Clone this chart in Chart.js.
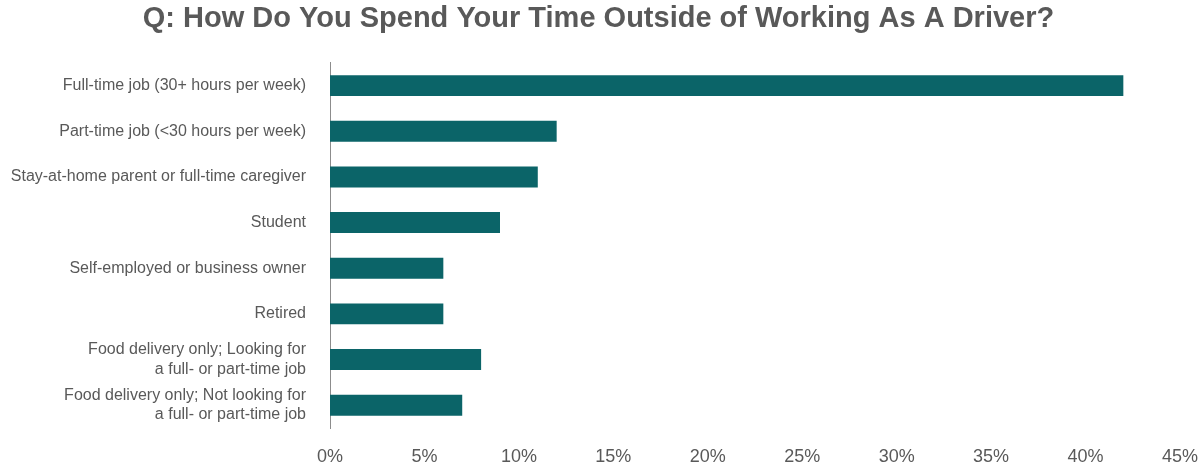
<!DOCTYPE html>
<html>
<head>
<meta charset="utf-8">
<script src="https://cdn.jsdelivr.net/npm/chart.js@4.4.1/dist/chart.umd.min.js"></script>
<style>
  html, body { margin: 0; padding: 0; background: #fff; }
  #wrap { width: 1199px; height: 469px; }
</style>
</head>
<body>
<div id="wrap"><canvas id="chart"></canvas></div>
<script>
// survey answers, top to bottom
const categories = [
    'Full-time job (30+ hours per week)',
    'Part-time job (<30 hours per week)',
    'Stay-at-home parent or full-time caregiver',
    'Student',
    'Self-employed or business owner',
    'Retired',
    ['Food delivery only; Looking for', 'a full- or part-time job'],
    ['Food delivery only; Not looking for', 'a full- or part-time job']
];
const shares = [42, 12, 11, 9, 6, 6, 8, 7];
const xTicks = [0, 5, 10, 15, 20, 25, 30, 35, 40, 45];

const textGray = '#595959';

new Chart(document.getElementById('chart'), {
    type: 'bar',
    data: {
        labels: categories,
        datasets: [{
            data: shares,
            backgroundColor: '#0b6468',
            barPercentage: 0.46,
            categoryPercentage: 1.0
        }]
    },
    options: {
        indexAxis: 'y',
        responsive: true,
        maintainAspectRatio: false,
        animation: false,
        layout: { padding: { left: 0, right: 2, top: 0, bottom: 1 } },
        plugins: {
            legend: { display: false },
            tooltip: { enabled: false },
            title: {
                display: true,
                text: 'Q: How Do You Spend Your Time Outside of Working As A Driver?',
                color: textGray,
                font: { family: 'Liberation Sans, Arial', size: 29, weight: 'bold' },
                padding: { top: 2, bottom: 26 }
            }
        },
        scales: {
            x: {
                min: 0,
                max: 45,
                afterBuildTicks: s => { s.ticks = xTicks.map(v => ({ value: v })); },
                // keep only half of the last label as right margin
                afterFit: s => { s.paddingLeft = 0; s.paddingRight = 19; s.height = 40; },
                grid: { display: false, drawTicks: false },
                border: { display: false },
                ticks: {
                    color: textGray,
                    padding: 18,
                    font: { family: 'Liberation Sans, Arial', size: 18 },
                    callback: v => v + '%'
                }
            },
            y: {
                grid: { display: false, drawTicks: false },
                border: { display: true, color: '#8c8c8c', width: 1 },
                afterFit: s => { s.width = 330; s.paddingTop = 0; s.paddingBottom = 0; },
                ticks: {
                    color: textGray,
                    padding: 24,
                    font: { family: 'Liberation Sans, Arial', size: 16 }
                }
            }
        }
    }
});
</script>
</body>
</html>
